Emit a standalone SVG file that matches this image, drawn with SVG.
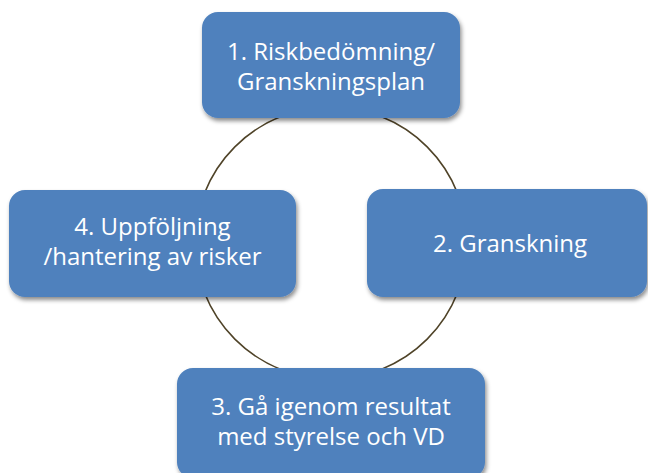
<svg xmlns="http://www.w3.org/2000/svg" width="648" height="473" viewBox="0 0 648 473">
  <style>
    .box { fill: #4f81bd; filter: url(#sh); }
    .lbl { font-family: "Open Sans", "Liberation Sans", sans-serif; font-size: 24px; fill: #ffffff; text-anchor: middle; }
    .conn { fill: none; stroke: #4f4328; stroke-width: 1.6; }
  </style>
  <defs>
    <filter id="sh" x="-10%" y="-10%" width="125%" height="130%">
      <feDropShadow dx="1.5" dy="3" stdDeviation="2.2" flood-color="#000000" flood-opacity="0.45"/>
    </filter>
  </defs>
  <rect width="648" height="473" fill="#ffffff"/>
  <g id="connectors">
    <circle class="conn" cx="331" cy="243" r="136"/>
  </g>
  <g id="node1">
    <rect class="box" x="202" y="12" width="258" height="106" rx="16"/>
    <text class="lbl" x="331" y="60">1. Riskbedömning/</text>
    <text class="lbl" x="331" y="90">Granskningsplan</text>
  </g>
  <g id="node2">
    <rect class="box" x="367" y="189" width="280" height="108" rx="16"/>
    <text class="lbl" x="510" y="252">2. Granskning</text>
  </g>
  <g id="node3">
    <rect class="box" x="177" y="368" width="308" height="110" rx="16"/>
    <text class="lbl" x="331" y="415">3. Gå igenom resultat</text>
    <text class="lbl" x="331" y="445">med styrelse och VD</text>
  </g>
  <g id="node4">
    <rect class="box" x="9" y="190" width="287" height="107" rx="16"/>
    <text class="lbl" x="152.5" y="235">4. Uppföljning</text>
    <text class="lbl" x="152.5" y="265">/hantering av risker</text>
  </g>
</svg>
